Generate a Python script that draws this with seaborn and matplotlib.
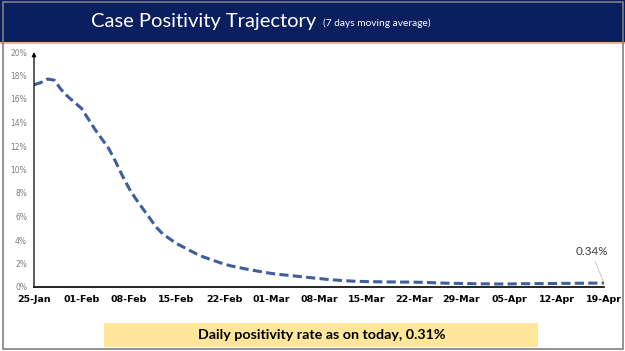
import matplotlib
matplotlib.use("Agg")
import matplotlib.pyplot as plt
from matplotlib.patches import Rectangle
import pandas as pd
import seaborn as sns

# 7-day moving average of case positivity (%), 25-Jan to 19-Apr
positivity = [
    17.2, 17.4, 17.7, 17.6, 16.8, 16.2, 15.7,   # 25-Jan .. 31-Jan
    15.2, 14.3, 13.4, 12.6, 11.8, 10.7, 9.5,    # 01-Feb ..
    8.4, 7.5, 6.7, 5.9, 5.1, 4.5, 4.1,          # 08-Feb ..
    3.7, 3.4, 3.1, 2.8, 2.55, 2.35, 2.15,       # 15-Feb ..
    1.95, 1.8, 1.68, 1.56, 1.45, 1.35, 1.25,    # 22-Feb ..
    1.15, 1.08, 1.02, 0.96, 0.9, 0.84, 0.78,    # 01-Mar ..
    0.72, 0.66, 0.61, 0.57, 0.53, 0.5, 0.48,    # 08-Mar ..
    0.46, 0.45, 0.44, 0.43, 0.43, 0.42, 0.42,   # 15-Mar ..
    0.41, 0.40, 0.38, 0.36, 0.34, 0.32, 0.31,   # 22-Mar ..
    0.30, 0.29, 0.28, 0.27, 0.27, 0.26, 0.26,   # 29-Mar ..
    0.26, 0.27, 0.28, 0.28, 0.29, 0.29, 0.30,   # 05-Apr ..
    0.30, 0.31, 0.31, 0.32, 0.32, 0.33, 0.33,   # 12-Apr ..
    0.34,                                       # 19-Apr
]
start_date = "2021-01-25"
tick_labels = ["25-Jan", "01-Feb", "08-Feb", "15-Feb", "22-Feb", "01-Mar", "08-Mar",
               "15-Mar", "22-Mar", "29-Mar", "05-Apr", "12-Apr", "19-Apr"]
y_ticks = [0, 2, 4, 6, 8, 10, 12, 14, 16, 18, 20]
title = "Case Positivity Trajectory"
subtitle = "(7 days moving average)"
footer = "Daily positivity rate as on today, 0.31%"
last_label = "0.34%"

dates = pd.date_range(start_date, periods=len(positivity), freq="D")
df = pd.DataFrame({"date": dates, "positivity": positivity})
tick_dates = pd.date_range(start_date, periods=len(tick_labels), freq="7D")

sns.set_style("white")
plt.rcParams["font.family"] = ["DejaVu Sans"]

W, H = 625, 351
fig = plt.figure(figsize=(W / 100, H / 100), dpi=100)
fig.patch.set_facecolor("white")

# header band + thin orange rule
fig.patches.append(Rectangle((0, 1 - 42 / H), 1, 42 / H, transform=fig.transFigure,
                             facecolor="#0A1F5F", edgecolor="none", zorder=0))
fig.patches.append(Rectangle((0, 1 - 44 / H), 1, 1.6 / H, transform=fig.transFigure,
                             facecolor="#F4B183", edgecolor="none", zorder=0))
# slide border
fig.patches.append(Rectangle((2.5 / W, 2 / H), (W - 5) / W, (H - 4) / H, transform=fig.transFigure,
                             facecolor="none", edgecolor="#808080", lw=1.2, zorder=0))
# yellow footer box
fig.patches.append(Rectangle((104 / W, 1 - 347 / H), (538 - 104) / W, 24 / H, transform=fig.transFigure,
                             facecolor="#FFE699", edgecolor="none", zorder=0))

fig.text(316 / W, 1 - 21 / H, title, color="white", fontsize=14.5, family="Lato",
         ha="right", va="center")
fig.text(323 / W, 1 - 23 / H, subtitle, color="white", fontsize=7.3, family="Lato",
         ha="left", va="center")
fig.text(322 / W, 1 - 335 / H, footer, color="black", fontsize=10.3, family="Lato",
         fontweight="bold", ha="center", va="center")

ax = fig.add_axes([34 / W, 1 - 287 / H, 570 / W, (287 - 52) / H])
ax.set_facecolor("white")
sns.lineplot(data=df, x="date", y="positivity", ax=ax, color="#3F5E9E",
             lw=2.2, linestyle=(0, (3.0, 1.4)))

ax.set_xlim(dates[0], dates[-1])
ax.set_ylim(0, 20)
ax.set_xticks(tick_dates)
ax.set_xticklabels(tick_labels)
ax.set_yticks(y_ticks)
ax.set_yticklabels([f"{v}%" for v in y_ticks])
ax.set_xlabel("")
ax.set_ylabel("")

for s in ["top", "right", "left"]:
    ax.spines[s].set_visible(False)
ax.spines["bottom"].set_color("black")
ax.spines["bottom"].set_linewidth(1.2)

ax.tick_params(axis="y", length=0, pad=5, labelsize=5.5, labelcolor="#7F7F7F")
ax.tick_params(axis="x", direction="inout", length=5, width=1, color="black",
               pad=3, labelsize=6.8, labelcolor="black")
for lab in ax.get_xticklabels():
    lab.set_fontweight("bold")

# y axis drawn as an arrow
ax.annotate("", xy=(0, 1.0), xytext=(0, 0), xycoords="axes fraction",
            arrowprops=dict(arrowstyle="-|>", color="black", lw=0.9,
                            mutation_scale=6, shrinkA=0, shrinkB=0))

ax.annotate(last_label, xy=(dates[-1], positivity[-1]), xytext=(-9, 19),
            textcoords="offset points", ha="center", va="bottom",
            fontsize=8.5, family="Lato", color="#404040",
            arrowprops=dict(arrowstyle="-", color="#BFBFBF", lw=0.6,
                            shrinkA=1, shrinkB=1, relpos=(0.55, 0)))

fig.savefig("out.png", dpi=100)
